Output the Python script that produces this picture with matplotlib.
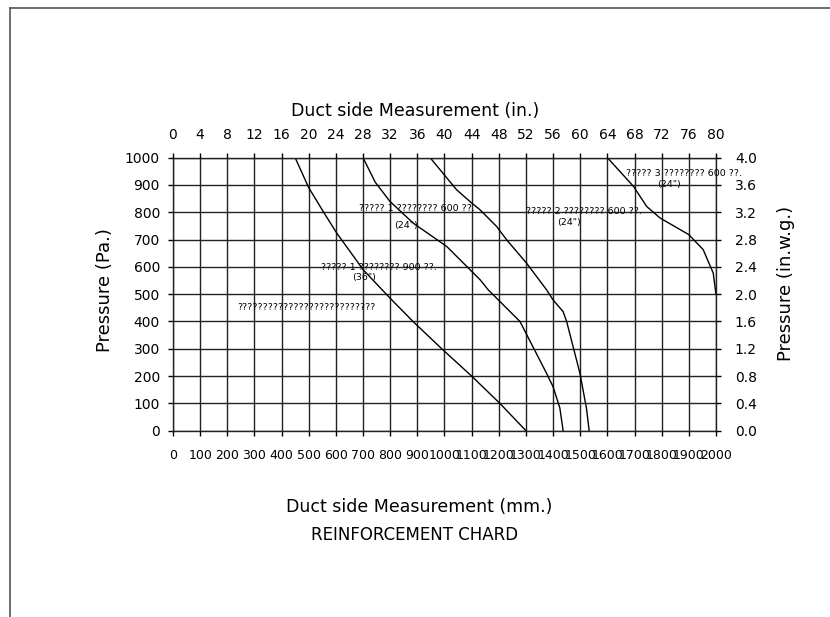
import numpy as np
import matplotlib.pyplot as plt
from matplotlib.lines import Line2D

plt.rcParams['font.family'] = 'DejaVu Sans'

# axis ticks
mm_ticks = list(range(0, 2001, 100))
in_ticks = list(range(0, 81, 4))
pa_ticks = list(range(0, 1001, 100))
inwg_ticks = [round(0.4 * i, 1) for i in range(11)]

# curves: duct side (mm) vs pressure (Pa)
curve_a_mm = [450, 500, 555, 603, 701, 799, 884, 990, 1100, 1204, 1300]
curve_a_pa = [1000, 890, 800, 724, 589, 486, 400, 300, 200, 100, 0]

curve_b_mm = [700, 745, 799, 885, 1008, 1131, 1161, 1278, 1376, 1400, 1425, 1437]
curve_b_pa = [1000, 910, 840, 760, 675, 553, 516, 400, 210, 161, 83, 0]

curve_c_mm = [947, 1045, 1100, 1131, 1192, 1229, 1302, 1376, 1400, 1437, 1450, 1499, 1523, 1533]
curve_c_pa = [1000, 882, 834, 809, 748, 699, 614, 516, 479, 436, 400, 210, 82, 0]

curve_d_mm = [1600, 1696, 1745, 1794, 1900, 1953, 1990, 2000]
curve_d_pa = [1000, 895, 821, 779, 718, 663, 577, 500]

# labels on the curves (text, x mm, y Pa)
notes = [
    ("????? 3 ???????? 600 ??.", 1669, 941),
    ("(24\")", 1783, 900),
    ("????? 1 ???????? 600 ??.", 685, 812),
    ("(24\")", 814, 752),
    ("????? 2 ???????? 600 ??.", 1300, 803),
    ("(24\")", 1414, 763),
    ("????? 1 ???????? 900 ??.", 544, 599),
    ("(36\")", 659, 562),
    ("???????????????????????????", 235, 451),
]

fig = plt.figure(figsize=(8.3, 6.17), dpi=100)
ax = fig.add_axes([0.2084, 0.302, 0.6542, 0.4425])
ax.set_xlim(0, 2000)
ax.set_ylim(0, 1000)
ax.set_xticks(mm_ticks)
ax.set_yticks(pa_ticks)
ax.grid(True, color='#222222', lw=1.0)
for s in ax.spines.values():
    s.set_color('#222222')
    s.set_linewidth(1.0)
ax.tick_params(axis='x', direction='out', length=3.6, width=1, labelsize=9, pad=9.4)
ax.tick_params(axis='y', direction='out', length=3.6, width=1, labelsize=10, pad=5.8)

for xs, ys in [(curve_a_mm, curve_a_pa), (curve_b_mm, curve_b_pa),
               (curve_c_mm, curve_c_pa), (curve_d_mm, curve_d_pa)]:
    ax.plot(xs, ys, color='black', lw=1.0)

for txt, x, y in notes:
    ax.text(x, y, txt, fontsize=6.8, ha='left', va='center')

ax_top = ax.twiny()
ax_top.set_xlim(0, 80)
ax_top.set_xticks(in_ticks)
ax_top.tick_params(axis='x', direction='out', length=3.6, width=1, labelsize=10, pad=7.7)
for s in ax_top.spines.values():
    s.set_visible(False)

ax_right = ax.twinx()
ax_right.set_ylim(0, 4)
ax_right.set_yticks(inwg_ticks)
ax_right.set_yticklabels(['%.1f' % v for v in inwg_ticks])
ax_right.tick_params(axis='y', direction='out', length=3.6, width=1, labelsize=10, pad=10)
for s in ax_right.spines.values():
    s.set_visible(False)

fig.text(0.50, 0.820, "Duct side Measurement (in.)", fontsize=12.5, ha='center', va='center')
fig.text(0.505, 0.178, "Duct side Measurement (mm.)", fontsize=12.5, ha='center', va='center')
fig.text(0.50, 0.133, "REINFORCEMENT CHARD", fontsize=12, ha='center', va='center')
fig.text(0.1265, 0.530, "Pressure (Pa.)", fontsize=13, rotation=90, ha='center', va='center')
fig.text(0.947, 0.541, "Pressure (in.w.g.)", fontsize=13, rotation=90, ha='center', va='center')

# drawing border (top and left edges)
fig.add_artist(Line2D([10 / 830, 1.0], [1 - 8 / 617, 1 - 8 / 617], transform=fig.transFigure,
                      color='#555555', lw=1.2))
fig.add_artist(Line2D([10 / 830, 10 / 830], [0.0, 1 - 8 / 617], transform=fig.transFigure,
                      color='#555555', lw=1.2))

fig.savefig('out.png', dpi=100)
